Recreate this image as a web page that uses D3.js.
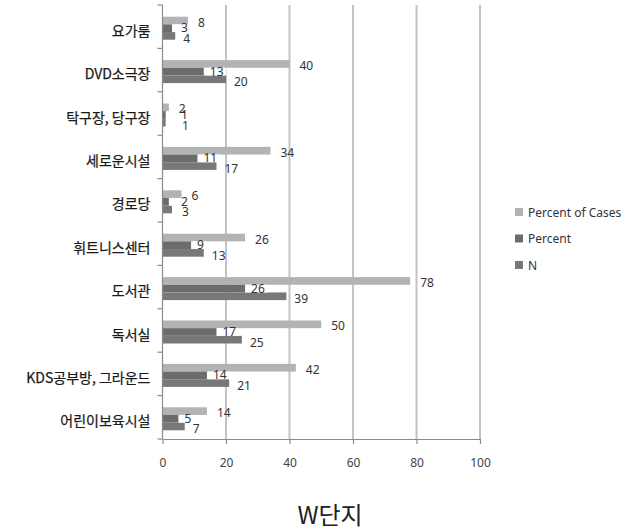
<!DOCTYPE html>
<html>
<head>
<meta charset="utf-8">
<script src="https://cdn.jsdelivr.net/npm/d3@7"></script>
<style>
  html, body { margin: 0; padding: 0; background: #fff; }
  svg { display: block; }
  text { font-family: "Noto Sans", "Noto Sans CJK KR", sans-serif; }
</style>
</head>
<body>
<svg id="chart" width="629" height="529"></svg>
<script>
// Facilities, top to bottom
const categories = ["요가룸", "DVD소극장", "탁구장, 당구장", "세로운시설", "경로당",
  "휘트니스센터", "도서관", "독서실", "KDS공부방, 그라운드", "어린이보육시설"];
const seriesNames = ["Percent of Cases", "Percent", "N"];
const percentOfCases = [8, 40, 2, 34, 6, 26, 78, 50, 42, 14];
const percent = [3, 13, 1, 11, 2, 9, 26, 17, 14, 5];
const nCount = [4, 20, 1, 17, 3, 13, 39, 25, 21, 7];
const xTicks = [0, 20, 40, 60, 80, 100];
const title = "W단지";

const seriesValues = [percentOfCases, percent, nCount];
const colors = ["#b3b3b3", "#6c6c6c", "#787878"];

const svg = d3.select("#chart");
const plotLeft = 162.5, plotRight = 480, plotTop = 5, plotBottom = 439;

const x = d3.scaleLinear().domain([0, 100]).range([plotLeft, plotRight]);
const y = d3.scaleBand().domain(categories).range([plotTop, plotBottom])
  .paddingInner(0.47).paddingOuter(0.235);
const ySub = d3.scaleBand().domain(seriesNames).range([0, y.bandwidth()]);

// vertical gridlines
svg.append("g").selectAll("line").data(xTicks.filter(t => t > 0)).join("line")
  .attr("x1", d => x(d)).attr("x2", d => x(d))
  .attr("y1", plotTop).attr("y2", plotBottom)
  .attr("stroke", "#c3c3c3").attr("stroke-width", 2);

// bars
const groups = svg.append("g").selectAll("g").data(categories).join("g")
  .attr("transform", d => `translate(0,${y(d) + 1.5})`);

seriesNames.forEach((s, si) => {
  groups.append("rect")
    .attr("x", x(0))
    .attr("y", ySub(s))
    .attr("width", (d, i) => x(seriesValues[si][i]) - x(0))
    .attr("height", ySub.bandwidth())
    .attr("fill", colors[si]);
});

// labels: Percent (with white backing); short bars push the label clear of the axis
groups.each(function(d, i) {
  const g = d3.select(this);
  const x0 = x(percent[i]);
  const tx = Math.max(x0 + 6, 181);
  const t = g.append("text")
    .attr("x", tx)
    .attr("y", ySub("Percent") + ySub.bandwidth() / 2 - 0.5)
    .attr("dominant-baseline", "central")
    .attr("font-size", 12).attr("fill", "#333")
    .text(percent[i]);
  const w = t.node().getComputedTextLength();
  g.insert("rect", function() { return t.node(); })
    .attr("x", x0 + 1)
    .attr("y", ySub("Percent"))
    .attr("width", tx + w + 3 - (x0 + 1))
    .attr("height", ySub.bandwidth())
    .attr("fill", "#fff");
});

// labels: Percent of Cases
groups.append("text")
  .attr("x", (d, i) => x(percentOfCases[i]) + 10)
  .attr("y", ySub("Percent of Cases") + ySub.bandwidth() / 2 + 1.5)
  .attr("dominant-baseline", "central")
  .attr("font-size", 12).attr("fill", "#333")
  .text((d, i) => percentOfCases[i]);

// labels: N
groups.append("text")
  .attr("x", (d, i) => Math.max(x(nCount[i]) + 8, 182))
  .attr("y", ySub("N") + ySub.bandwidth() / 2 + 2.5)
  .attr("dominant-baseline", "central")
  .attr("font-size", 12).attr("fill", "#333")
  .text((d, i) => nCount[i]);

// y axis
const yAxis = svg.append("g").attr("transform", `translate(${plotLeft},0)`);
yAxis.append("line").attr("x1", 0).attr("x2", 0).attr("y1", plotTop).attr("y2", plotBottom)
  .attr("stroke", "#8a8a8a").attr("stroke-width", 1.2);
const bandEdges = categories.map(c => y(c) - y.step() * y.paddingInner() / 2);
bandEdges.push(plotBottom);
yAxis.selectAll("line.tick").data(bandEdges).join("line").attr("class", "tick")
  .attr("x1", -5).attr("x2", 0).attr("y1", d => d).attr("y2", d => d)
  .attr("stroke", "#8a8a8a").attr("stroke-width", 1.2);
yAxis.selectAll("text").data(categories).join("text")
  .attr("x", -12)
  .attr("y", d => y(d) + y.bandwidth() / 2 + 3)
  .attr("text-anchor", "end")
  .attr("dominant-baseline", "central")
  .attr("font-size", 14).attr("fill", "#1a1a1a")
  .attr("stroke", "#1a1a1a").attr("stroke-width", 0.25)
  .style("font-family", "'Noto Sans CJK KR', sans-serif")
  .text(d => d);

// x axis
const xAxis = svg.append("g").attr("transform", `translate(0,${plotBottom})`)
  .call(d3.axisBottom(x).tickValues(xTicks).tickSize(5).tickPadding(14).tickSizeOuter(0));
xAxis.select(".domain").attr("stroke", "#8a8a8a").attr("stroke-width", 1.2);
xAxis.selectAll(".tick line").attr("stroke", "#8a8a8a").attr("stroke-width", 1.2);
xAxis.selectAll(".tick text").attr("font-size", 12).attr("fill", "#444")
  .style("font-family", "'Noto Sans', sans-serif");

// legend
const legend = svg.append("g").selectAll("g").data(seriesNames).join("g")
  .attr("transform", (d, i) => `translate(515,${212 + i * 26.5})`);
legend.append("rect").attr("x", 0).attr("y", -4).attr("width", 8).attr("height", 8)
  .attr("fill", (d, i) => colors[i]);
legend.append("text").attr("x", 13).attr("y", 0)
  .attr("dominant-baseline", "central")
  .attr("font-size", 12).attr("fill", "#333")
  .text(d => d);

// title
svg.append("text")
  .attr("x", 330).attr("y", 513)
  .attr("text-anchor", "middle")
  .attr("dominant-baseline", "central")
  .attr("font-size", 24).attr("fill", "#222")
  .style("font-family", "'Noto Sans CJK KR', sans-serif")
  .text(title);
</script>
</body>
</html>
